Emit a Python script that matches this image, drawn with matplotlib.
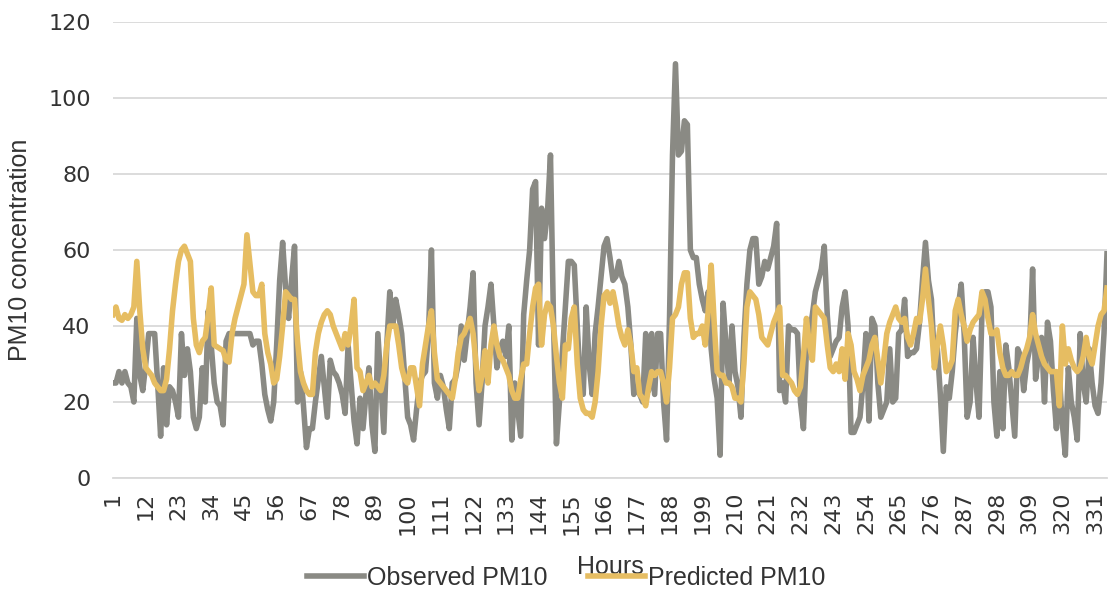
"""Observed vs predicted PM10 concentration by hour."""

import matplotlib

matplotlib.use("Agg")
import matplotlib.pyplot as plt

plt.rcParams["font.family"] = ["Liberation Sans", "DejaVu Sans"]

# hourly values, hours 1..335
observed_pm10 = [
    25, 25, 28, 25, 28, 25, 24, 20, 42, 27, 23, 30, 38, 38, 38, 25, 11, 29, 14, 24,
    23, 20, 16, 38, 27, 34, 28, 16, 13, 16, 29, 20, 44, 35, 25, 20, 19, 14, 36, 38,
    38, 38, 38, 38, 38, 38, 38, 35, 36, 36, 30, 22, 18, 15, 20, 35, 52, 62, 50, 42,
    52, 61, 20, 28, 19, 8, 13, 13, 20, 26, 32, 24, 16, 31, 28, 27, 25, 22, 17, 35,
    25, 15, 9, 21, 13, 22, 29, 14, 7, 38, 25, 12, 35, 49, 40, 47, 43, 38, 27, 16,
    14, 10, 18, 25, 27, 28, 38, 60, 25, 21, 27, 24, 18, 13, 25, 26, 30, 40, 31, 38,
    45, 54, 25, 14, 25, 40, 45, 51, 40, 29, 34, 36, 32, 40, 10, 25, 18, 11, 43, 52,
    60, 76, 78, 35, 71, 63, 70, 85, 42, 9, 20, 33, 45, 57, 57, 56, 40, 25, 22, 45,
    30, 22, 38, 45, 53, 61, 63, 58, 52, 53, 57, 53, 51, 45, 35, 22, 24, 22, 20, 38,
    23, 38, 22, 38, 38, 20, 10, 42, 85, 109, 85, 86, 94, 93, 60, 58, 58, 51, 47, 44,
    49, 34, 26, 21, 6, 46, 35, 25, 40, 28, 24, 16, 37, 51, 60, 63, 63, 51, 53, 57,
    55, 58, 61, 67, 23, 25, 20, 40, 39, 39, 38, 20, 13, 34, 38, 43, 49, 52, 55, 61,
    43, 32, 34, 36, 37, 45, 49, 40, 12, 12, 14, 16, 25, 38, 15, 42, 40, 25, 16, 18,
    20, 34, 20, 21, 38, 39, 47, 32, 33, 33, 34, 41, 52, 62, 52, 47, 31, 34, 22, 7,
    24, 21, 28, 38, 45, 51, 38, 16, 20, 37, 25, 16, 44, 49, 49, 45, 20, 11, 28, 13,
    35, 29, 20, 11, 34, 32, 23, 30, 34, 55, 26, 32, 37, 20, 41, 36, 23, 13, 27, 14,
    6, 29, 20, 16, 10, 38, 25, 20, 34, 25, 19, 17, 25, 38, 59,
]
predicted_pm10 = [
    43, 45, 42, 41.5, 43, 42, 43, 45, 57, 44, 34, 29, 28, 27, 25, 24, 23, 23, 26, 34,
    44, 51, 57, 60, 61, 59, 57, 42, 35, 33, 36, 37, 43, 50, 35, 34.5, 34, 33.5, 31, 30.5,
    38, 42, 45, 48, 51, 64, 56.5, 49, 48, 48, 51, 38, 33, 30, 25, 26, 32, 40, 49, 48,
    47, 47, 36, 28, 25, 23, 22, 22, 33, 38, 41, 43, 44, 43, 40, 38, 36, 34, 38, 35,
    40, 47, 29, 28, 23, 25, 27, 24, 25, 24, 23, 27, 35, 40, 40, 40, 35, 29, 26, 25,
    29, 29, 24, 19, 30, 35, 40, 44, 33, 26, 25, 24, 23, 22, 21, 26, 33, 37, 38, 40,
    42, 38, 30, 23, 27, 33.5, 25, 35, 40, 35, 32, 31, 29, 27, 23, 21, 21, 26, 30, 30,
    38, 45, 50, 51, 35, 43, 46, 45, 40, 32, 25, 21, 35, 34, 42, 45, 30, 21, 18, 17,
    17, 16, 20, 28, 40, 48, 49, 46, 49, 45, 40, 37, 35, 39, 35, 28, 29, 22, 21, 19,
    24, 28, 27, 28, 28, 25, 20, 29, 42, 43, 45, 51, 54, 54, 42, 37, 38, 38, 40, 35,
    44, 56, 41, 28, 27, 27, 25, 25, 24, 21, 21, 20, 30, 45, 49, 48, 47, 43, 37, 36,
    35, 38, 41, 43, 45, 27, 27, 26, 25, 23, 22, 24, 32, 42, 35, 31, 45, 44, 43, 42,
    35, 29, 28, 30, 28, 34, 26, 38, 35, 28, 26, 23, 27, 29, 31, 35, 37, 31, 25, 31,
    38, 41, 43, 45, 42, 41, 42, 37, 35, 38, 42, 41, 47, 55, 47, 40, 29, 35, 40, 35,
    28, 29, 31, 44, 47, 43, 40, 36, 39, 41, 42, 43, 49, 47, 42, 38, 38, 39, 33, 29,
    27, 27, 28, 27, 27, 29, 32, 34, 37, 43, 38, 35, 32, 30, 29, 28, 28, 28, 19, 40,
    30, 34, 31, 29, 28, 29, 32, 37, 32, 30, 35, 40, 43, 44, 50,
]
hours = list(range(1, len(observed_pm10) + 1))
hour_ticks = hours[::11]
y_ticks = [0, 20, 40, 60, 80, 100, 120]

GRAY = "#8a8a84"
GOLD = "#e6bd62"
TEXT = "#333333"
GRID = "#d9d9d9"

fig = plt.figure(figsize=(11.08, 5.92), dpi=100)
ax = fig.add_axes([113 / 1108, 1 - 478 / 592, 994 / 1108, 456 / 592])

ax.plot(hours, observed_pm10, color=GRAY, lw=4.0, solid_joinstyle="round",
        label="Observed PM10", zorder=3)
ax.plot(hours, predicted_pm10, color=GOLD, lw=4.0, solid_joinstyle="round",
        label="Predicted PM10", zorder=4)

ax.set_xlim(1, len(hours))
ax.set_ylim(0, 120)
ax.set_yticks(y_ticks)
ax.set_xticks(hour_ticks)
ax.set_xticklabels([str(h) for h in hour_ticks], rotation=90)
ax.tick_params(axis="both", length=0, labelsize=16, labelcolor=TEXT)
for lbl in ax.get_xticklabels() + ax.get_yticklabels():
    lbl.set_fontfamily("DejaVu Sans")
ax.tick_params(axis="x", pad=10)
ax.tick_params(axis="y", pad=16)

ax.grid(axis="y", color=GRID, lw=1.3)
ax.set_axisbelow(True)
for side in ["left", "right", "top"]:
    ax.spines[side].set_visible(False)
ax.spines["bottom"].set_color(GRID)
ax.spines["bottom"].set_linewidth(1.3)

ax.set_ylabel("PM10 concentration", fontsize=18, color=TEXT)
ax.yaxis.set_label_coords(-0.0815, 0.5)
ax.set_xlabel("Hours", fontsize=18, color=TEXT, va="top")
ax.xaxis.set_label_coords(0.5, (478 - 555) / 456)

fig.legend(loc="center", bbox_to_anchor=(566 / 1108, 1 - 578 / 592), ncol=2,
           frameon=False, fontsize=18, handlelength=2.3, handletextpad=0.12,
           columnspacing=1.6, borderpad=0, labelcolor=TEXT)

fig.savefig("out.png", dpi=100)
